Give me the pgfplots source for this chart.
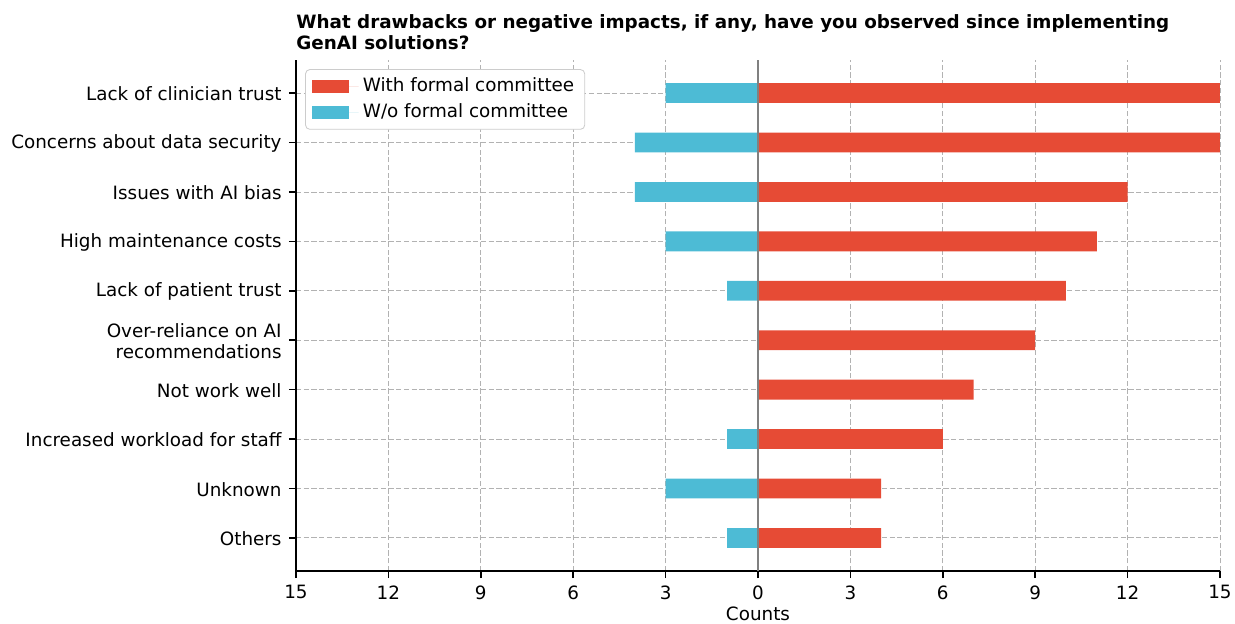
\documentclass[border=0pt]{standalone}
\usepackage{fontspec}
\setmainfont{DejaVu Sans}
\usepackage{pgfplots}
\pgfplotsset{compat=1.18}
\definecolor{cred}{HTML}{E64B35}
\definecolor{cblue}{HTML}{4DBBD5}
\begin{document}
\begin{tikzpicture}
\useasboundingbox (-142.08pt,-25.44pt) rectangle (450.72pt,274.08pt);
\begin{axis}[
  scale only axis, width=443.52pt, height=245.28pt,
  xmin=-15, xmax=15, ymin=-0.67, ymax=9.67,
  xbar, bar width=0.4, bar shift=0pt,
  axis x line*=bottom, axis y line*=left,
  axis line style={-, line width=0.8pt},
  tick align=outside, major tick length=3.4pt,
  every tick/.style={black, line width=0.8pt},
  xtick={-15,-12,...,15},
  xticklabels={15,12,9,6,3,0,3,6,9,12,15},
  ytick={0,...,9},
  yticklabels={Others, Unknown, Increased workload for staff, Not work well, {Over-reliance on AI\\recommendations}, Lack of patient trust, High maintenance costs, Issues with AI bias, Concerns about data security, Lack of clinician trust},
  tick label style={font=\fontsize{8.8}{9.8}\selectfont},
  yticklabel style={align=right, yshift=-0.5pt},
  /pgf/number format/assume math mode=true,
  xlabel={Counts},
  xlabel style={font=\fontsize{8.8}{10.6}\selectfont, inner ysep=0.5pt, yshift=0.6pt},
  grid=major,
  major grid style={dash pattern=on 2.5pt off 1.2pt, gray!60, line width=0.4pt},
  title={What drawbacks or negative impacts, if any, have you observed since implementing\\GenAI solutions?},
  title style={at={(0,1)}, anchor=south west, align=left, inner sep=0pt, yshift=-1.3pt, font=\bfseries\fontsize{8.8}{10.3}\selectfont},
  legend style={at={(0,1)}, anchor=north west, xshift=4.4pt, yshift=-4.4pt,
    draw=gray!40, rounded corners=2pt, fill=white,
    font=\fontsize{8.8}{10.6}\selectfont, row sep=0.3pt, inner xsep=3pt, inner ysep=2pt},
  legend cell align=left,
  legend image code/.code={\fill[#1, sharp corners] (0pt,-3.1pt) rectangle (17.7pt,3.1pt); \path (0pt,0pt) -- (22.5pt,0pt);},
]
\addplot[fill=cred, draw=none] coordinates {(4,0) (4,1) (6,2) (7,3) (9,4) (10,5) (11,6) (12,7) (15,8) (15,9)};
\addlegendentry{With formal committee}
\addplot[fill=cblue, draw=none] coordinates {(-1,0) (-3,1) (-1,2) (0,3) (0,4) (-1,5) (-3,6) (-4,7) (-4,8) (-3,9)};
\addlegendentry{W/o formal committee}
\addplot[gray, line width=0.8pt, forget plot, xbar=false, sharp plot] coordinates {(0,-0.67) (0,9.67)};
\end{axis}
\end{tikzpicture}
\end{document}
